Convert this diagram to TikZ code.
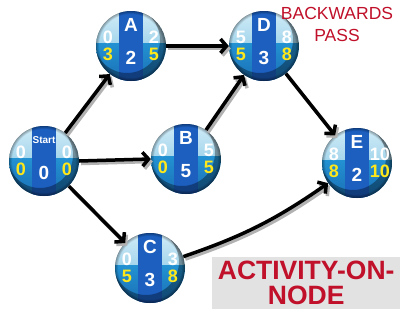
\documentclass[tikz,border=0pt]{standalone}
\usepackage{fontspec}
\setmainfont{Liberation Sans}
\usetikzlibrary{arrows.meta}
\definecolor{lightb}{HTML}{A6D6EC}
\definecolor{lighttop}{HTML}{D2EDF8}
\definecolor{midb}{HTML}{2392D2}
\definecolor{midbot}{HTML}{1A6FB5}
\definecolor{darkb}{HTML}{1C5FBF}
\definecolor{pmred}{HTML}{C0102A}
\definecolor{numyel}{HTML}{FFE81A}
\definecolor{boxgray}{HTML}{E2E2E2}
\tikzset{
  arr/.style={line width=3.5pt, black, -{Straight Barb[length=6pt,width=14pt]},
    preaction={draw=black!30, line width=3.5pt, transform canvas={shift={(2pt,-2.5pt)}}}},
  toplbl/.style={text=white, font=\bfseries\fontsize{18}{18}\selectfont, inner sep=0pt},
  botlbl/.style={text=numyel, font=\bfseries\fontsize{18}{18}\selectfont, inner sep=0pt},
  letlbl/.style={text=white, font=\bfseries\fontsize{19}{19}\selectfont, inner sep=0pt},
  durlbl/.style={text=white, font=\bfseries\fontsize{19}{19}\selectfont, inner sep=0pt},
  circnode/.style={circle, minimum size=70pt, inner sep=0pt},
}
\newcommand{\nr}{35}
% name, x, y, letter, ES, EF, LS, LF, duration
\newcommand{\actnode}[9]{%
  \begin{scope}[shift={(#2,#3)}]
    \begin{scope}
      \clip (0,0) circle (\nr pt);
      \shade[top color=lighttop, bottom color=lightb] (-40,-36) rectangle (40,-3);
      \shade[top color=midb, bottom color=midbot] (-40,-3) rectangle (40,36);
      \fill[darkb] (-12,-40) rectangle (12,40);
      \fill[black, opacity=0.35, even odd rule] (0,0) circle (\nr pt) (-4,-6) circle (33pt);
      \foreach \k in {1,...,6}
        \draw[black, opacity=0.06, line width=\k pt] (0,0) circle (\nr pt);
    \end{scope}
    \node[circnode] (#1) at (0,0) {};
    \node[letlbl] (#1-l) at (0,-21) {#4};
    \node[toplbl] (#1-es) at (-23,-9) {#5};
    \node[toplbl] (#1-ef) at (23,-9) {#6};
    \node[botlbl] (#1-ls) at (-23,8) {#7};
    \node[botlbl] (#1-lf) at (23,8) {#8};
    \node[durlbl] (#1-d) at (0,12) {#9};
  \end{scope}}
\begin{document}
\begin{tikzpicture}[x=1pt,y=-1pt]
  \useasboundingbox (0,0) rectangle (400,316);
  \fill[white] (0,0) rectangle (400,316);
  % nodes
  \actnode{Start}{44}{161}{\fontsize{10}{10}\selectfont Start}{0}{0}{0}{0}{0}
  \actnode{A}{131}{46}{A}{0}{2}{3}{5}{2}
  \actnode{D}{264}{46}{D}{5}{8}{5}{8}{3}
  \actnode{B}{186}{159}{B}{0}{5}{0}{5}{5}
  \actnode{E}{357}{163}{E}{8}{10}{8}{10}{2}
  \actnode{C}{150}{268}{C}{0}{3}{5}{8}{3}
  % connectors
  \draw[arr] (Start) -- (A);
  \draw[arr] (Start.east) -- (B.west);
  \draw[arr] (Start) -- (C);
  \draw[arr] (A) -- (D);
  \draw[arr] (B) -- (D);
  \draw[arr] (D) -- (E);
  \draw[arr] (C) to[bend right=8] (E);
  % titles
  \node[text=pmred, font=\fontsize{17.5}{22}\selectfont, align=center] (bp) at (337,24) {BACKWARDS\\PASS};
  \node[fill=boxgray, minimum width=188pt, minimum height=52pt, anchor=north west, inner sep=0pt] (aonbox) at (212,257) {};
  \node[text=pmred, font=\bfseries\fontsize{26.5}{25}\selectfont, align=center] (aon) at (aonbox.center) {ACTIVITY-ON-\\NODE};
\end{tikzpicture}
\end{document}
